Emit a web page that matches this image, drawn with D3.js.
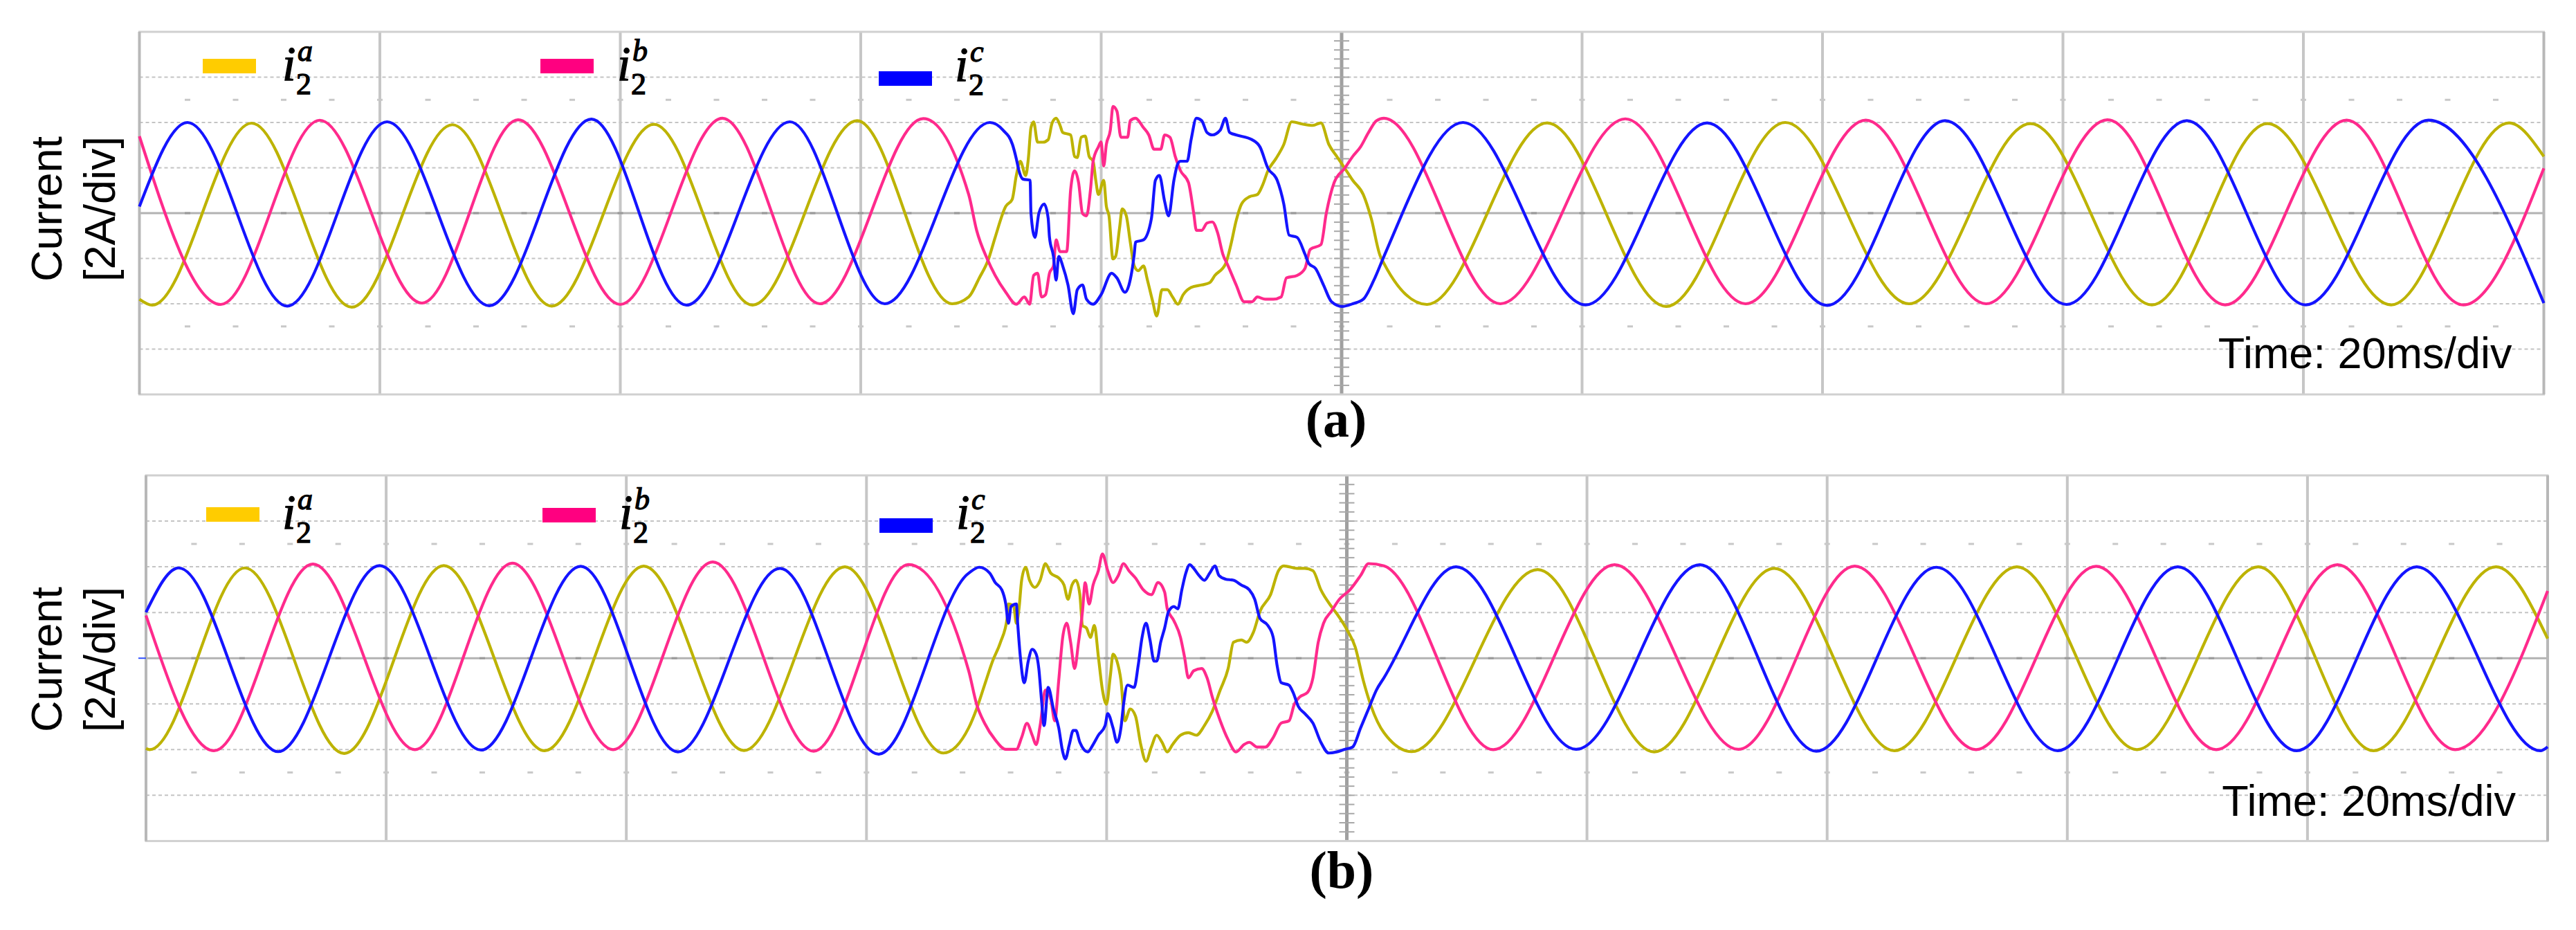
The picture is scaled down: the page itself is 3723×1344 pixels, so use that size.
<!DOCTYPE html>
<html>
<head>
<meta charset="utf-8">
<script src="https://cdn.jsdelivr.net/npm/d3@7"></script>
<style>
  body { margin: 0; background: #fff; }
  svg { display: block; }
</style>
</head>
<body>
<div id="chart"></div>
<script>
// [time ms, current A] (2A/div, 20ms/div)
const a_i2a = [[0,-3.8],[1.07,-4.06],[9.33,3.97],[17.66,-4.15],[26.03,3.9],[34.3,-4.1],[42.8,3.92],[51.0,-4.06],[59.7,4.08],[67.6,-4.0],
  [68.98,-3.7],[69.86,-2.86],[70.6,-2.07],[71.18,-1.07],[72.06,0.3],[72.6,0.61],[72.94,1.66],[73.27,2.29],[73.72,1.66],[73.94,2.4],[74.16,3.77],[74.38,4.03],[74.71,3.13],[75.15,3.13],[75.59,3.24],[75.92,3.98],[76.25,4.19],[76.58,3.87],[76.8,3.56],[77.46,3.45],[77.79,2.5],[78.01,2.45],[78.34,3.35],[78.67,3.4],[79.0,2.5],[79.33,2.29],[79.55,1.45],[79.77,0.82],[80.21,1.45],[80.43,0.3],[80.65,-0.12],[80.98,-2.02],[81.2,-1.91],[81.53,-0.65],[81.75,0.19],[82.09,-0.12],[82.42,-1.28],[82.75,-2.33],[83.08,-2.54],[83.52,-2.33],[83.85,-2.96],[84.29,-3.91],[84.62,-4.54],[85.06,-3.38],[85.5,-3.38],[85.94,-3.7],[86.38,-4.02],[86.82,-3.6],[87.48,-3.28],[88.36,-3.17],[89.02,-3.07],[89.46,-2.75],[90.35,-2.23],[90.79,-1.39],[91.23,-0.33],[91.67,0.4],[92.33,0.72],[92.99,0.82],[93.43,1.24],[93.87,1.87],[94.53,2.4],[95.19,3.03],[95.85,4.03],[96.73,3.93],[97.61,3.87],[98.28,3.98],[98.94,3.03],[99.6,2.5],[100.26,1.98],[100.92,1.45],[101.8,0.82],[102.46,-0.23],[103.23,-1.91],
  [107.1,-4.03],[117.1,3.98],[127.0,-4.12],[136.9,4.0],[147.2,-4.0],[157.3,3.95],[167.4,-4.05],[177.0,3.95],[187.3,-4.05],[197.1,3.98],[200,2.5]];
const a_i2b = [[0,3.39],[6.76,-4.03],[15.0,4.1],[23.5,-3.97],[31.5,4.12],[40.0,-4.03],[48.5,4.19],[56.6,-4.0],[65.2,4.17],
  [68.98,0.82],[69.64,-0.76],[70.52,-2.02],[71.18,-2.75],[72.06,-3.49],[72.94,-4.02],[73.61,-3.7],[74.05,-4.02],[74.38,-2.75],[74.71,-2.65],[75.04,-3.7],[75.37,-3.6],[75.7,-2.65],[76.03,-2.33],[76.25,-1.18],[76.58,-1.7],[77.13,-1.7],[77.46,1.03],[77.79,1.87],[78.12,1.35],[78.45,-0.02],[78.78,-0.12],[79.11,1.03],[79.33,2.29],[79.77,2.93],[79.99,3.14],[80.21,2.08],[80.43,3.03],[80.76,3.66],[80.98,4.71],[81.31,4.5],[81.64,3.35],[82.2,3.35],[82.42,4.08],[82.86,4.19],[83.52,3.77],[83.96,3.45],[84.4,2.82],[84.95,2.82],[85.28,3.45],[85.72,3.35],[86.16,2.5],[86.6,1.87],[87.26,1.35],[87.7,-0.02],[87.92,-0.76],[88.36,-0.76],[88.8,-0.44],[89.24,-0.39],[89.68,-0.86],[90.12,-1.81],[90.56,-2.33],[91.23,-3.17],[91.89,-3.91],[92.55,-3.91],[92.99,-3.7],[93.65,-3.8],[94.31,-3.8],[94.97,-3.7],[95.41,-2.86],[96.29,-2.75],[96.95,-2.44],[97.39,-1.6],[98.28,-1.39],[98.72,-0.02],[99.38,1.35],[100.26,1.98],[100.92,2.5],[101.58,2.93],[102.24,3.56],[102.9,4.08],[103.52,4.19],
  [113.2,-4.0],[123.6,4.16],[133.6,-4.0],[143.6,4.1],[153.6,-4.0],[163.7,4.12],[173.5,-4.05],[183.6,4.1],[193.3,-4.05],[200,1.98]];
const a_i2c = [[0,0.29],[4.0,4.0],[12.3,-4.1],[20.6,4.03],[29.1,-4.09],[37.6,4.15],[45.5,-4.06],[54.1,4.03],[62.0,-4.0],[70.74,4.0],
  [71.84,3.66],[72.62,3.03],[72.94,2.4],[73.16,1.87],[73.5,1.5],[74.09,1.45],[74.16,0.0],[74.49,-1.07],[74.82,0.0],[75.26,0.4],[75.59,-0.23],[75.7,-1.07],[76.03,-1.91],[76.25,-2.96],[76.47,-1.91],[76.8,-2.33],[77.24,-3.17],[77.68,-4.44],[78.01,-3.38],[78.45,-3.17],[78.78,-3.8],[79.33,-4.02],[79.99,-3.6],[80.87,-2.65],[81.31,-2.86],[81.97,-3.49],[82.31,-3.17],[82.75,-1.81],[82.86,-1.28],[83.52,-1.18],[84.18,-0.23],[84.51,1.45],[84.84,1.66],[85.28,0.51],[85.61,-0.12],[86.05,1.45],[86.38,2.19],[86.6,2.29],[87.15,2.29],[87.48,3.24],[87.92,4.19],[88.36,4.08],[88.8,3.56],[89.24,3.45],[89.9,3.66],[90.34,4.19],[90.68,3.56],[91.23,3.45],[92.55,3.24],[93.21,2.92],[93.87,1.98],[94.64,1.45],[95.19,0.4],[95.63,-0.97],[96.29,-1.07],[96.95,-1.81],[97.28,-2.23],[97.83,-2.44],[98.49,-3.17],[99.16,-3.91],[100.04,-4.12],[100.92,-4.0],[101.8,-3.8],[102.68,-2.96],[103.52,-1.91],
  [110.1,4.0],[120.3,-4.05],[130.4,3.98],[140.4,-4.07],[150.2,4.08],[160.3,-4.03],[170.3,4.08],[180.2,-4.05],[190.4,4.1],[200,-3.97]];

const b_i2a = [[0,-3.95],[0.3,-4.0],[8.24,3.95],[16.5,-4.17],[24.8,4.05],[33.2,-4.05],[41.45,4.03],[49.8,-4.04],[58.2,4.0],[66.4,-4.15],
  [68.51,-3.05],[69.17,-2.22],[69.83,-1.18],[70.5,-0.13],[71.16,0.7],[71.71,1.74],[71.82,2.37],[72.26,2.26],[72.48,1.53],[72.7,2.16],[72.92,3.41],[73.25,3.98],[73.58,3.41],[74.02,3.1],[74.46,3.41],[74.9,4.14],[75.35,3.72],[76.01,3.51],[76.45,3.2],[76.78,2.58],[77.11,3.2],[77.44,3.41],[77.77,2.78],[77.99,1.43],[78.32,1.32],[78.65,0.91],[78.98,1.43],[79.31,0.07],[79.65,-1.39],[79.98,-2.01],[80.31,-0.76],[80.53,0.18],[80.86,-0.13],[81.19,-0.97],[81.52,-2.74],[81.96,-2.22],[82.4,-2.53],[82.84,-3.78],[83.28,-4.51],[83.72,-3.89],[84.17,-3.37],[84.61,-3.68],[85.05,-4.1],[85.49,-3.78],[86.15,-3.37],[86.81,-3.26],[87.47,-3.37],[88.14,-2.95],[88.8,-2.32],[89.46,-1.39],[90.12,-0.45],[90.56,0.7],[91.22,0.8],[91.66,0.7],[92.21,1.12],[92.77,2.05],[93.65,2.78],[94.31,3.83],[94.75,4.04],[95.85,3.93],[96.51,3.93],[97.18,3.83],[97.84,2.99],[98.72,2.26],[99.16,1.95],[100.04,1.22],[100.7,0.49],[101.37,-0.97],[102.03,-2.11],[103.09,-3.26],
  [105.4,-4.09],[115.9,3.88],[125.6,-4.1],[135.6,3.93],[145.6,-4.05],[155.8,4.0],[165.8,-4.0],[175.9,4.0],[185.5,-4.05],[195.7,4.0],[200,0.86]];
const b_i2b = [[0,1.87],[5.66,-4.05],[13.9,4.12],[22.4,-4.0],[30.5,4.16],[38.9,-4.0],[47.2,4.21],[55.6,-4.07],[63.5,4.1],
  [68.51,-0.55],[69.17,-2.01],[69.83,-2.84],[70.72,-3.57],[71.6,-3.99],[72.48,-3.99],[72.92,-3.47],[73.36,-2.85],[73.8,-3.37],[74.13,-3.78],[74.46,-2.95],[74.9,-1.39],[75.35,-1.8],[75.68,-2.74],[76.01,-0.97],[76.34,0.91],[76.67,1.53],[77.0,0.7],[77.33,-0.45],[77.66,0.7],[77.99,2.06],[78.21,3.3],[78.54,2.37],[78.87,3.2],[79.31,3.83],[79.65,4.56],[80.09,3.83],[80.53,3.31],[80.97,3.62],[81.41,4.14],[81.85,3.83],[82.4,3.51],[83.06,2.99],[83.73,2.78],[84.28,3.31],[84.83,2.89],[85.05,2.16],[85.6,1.64],[86.15,0.91],[86.48,0.07],[86.81,-0.86],[87.25,-0.55],[87.91,-0.45],[88.36,-0.86],[88.8,-1.7],[89.46,-2.74],[90.12,-3.57],[90.78,-4.1],[91.44,-3.78],[91.88,-3.68],[92.55,-3.89],[93.21,-3.89],[93.87,-3.47],[94.53,-2.84],[95.19,-2.74],[95.63,-2.01],[96.07,-1.7],[96.74,-1.49],[97.18,-0.86],[97.62,0.7],[98.06,1.53],[98.72,2.06],[99.38,2.58],[100.26,2.99],[101.15,3.62],[101.81,4.14],[103.09,4.04],
  [112.2,-4.0],[122.3,4.09],[132.6,-3.99],[142.3,4.03],[152.4,-4.0],[162.4,4.02],[172.4,-4.0],[182.5,4.09],[192.3,-4.0],[200,2.94]];
const b_i2c = [[0,2.01],[2.73,3.95],[11.0,-4.09],[19.45,4.05],[27.9,-4.02],[36.2,4.02],[44.3,-4.1],[52.8,3.93],[61.0,-4.2],
  [68.51,3.72],[69.39,3.98],[70.27,3.72],[70.72,3.31],[71.27,2.99],[71.6,2.37],[71.82,1.53],[72.04,2.26],[72.48,2.37],[72.59,1.53],[72.81,0.07],[73.14,-1.07],[73.47,-0.13],[73.8,0.39],[74.13,0.18],[74.35,-0.45],[74.57,-1.8],[74.79,-2.95],[75.13,-1.28],[75.57,-2.22],[76.01,-3.05],[76.34,-4.1],[76.56,-4.41],[76.89,-3.78],[77.22,-3.16],[77.44,-3.16],[77.77,-3.68],[78.1,-3.99],[78.43,-4.1],[78.87,-3.78],[79.31,-3.37],[79.87,-2.95],[80.09,-2.43],[80.53,-3.05],[80.86,-3.68],[81.19,-3.05],[81.41,-2.01],[81.74,-1.18],[82.29,-1.28],[82.62,-0.34],[82.95,0.91],[83.28,1.53],[83.61,0.8],[83.95,-0.13],[84.17,-0.13],[84.5,0.7],[84.83,1.32],[85.16,2.05],[85.6,2.26],[85.93,2.16],[86.26,2.99],[86.59,3.72],[86.92,4.09],[87.25,3.93],[87.69,3.62],[88.14,3.41],[88.58,3.72],[89.02,4.04],[89.35,3.62],[89.9,3.46],[90.56,3.41],[91.22,3.2],[91.88,2.99],[92.33,2.58],[92.77,1.74],[93.43,1.43],[93.87,0.91],[94.2,-0.34],[94.53,-1.07],[95.19,-1.18],[95.52,-1.49],[95.96,-2.11],[96.51,-2.43],[97.18,-2.84],[97.84,-3.68],[98.5,-4.15],[99.16,-4.1],[99.82,-3.99],[100.48,-3.89],[101.15,-3.05],[101.81,-2.22],[102.47,-1.39],[103.09,-0.86],
  [109.1,4.0],[119.1,-3.99],[129.4,4.09],[139.1,-4.07],[149.1,3.98],[159.2,-4.05],[169.2,4.0],[179.1,-4.05],[189.1,4.0],[199.4,-4.05],[200,-3.88]];

const phases = ["a", "b", "c"];
const captions = ["(a)", "(b)"];
const yLabel = ["Current", "[2A/div]"];
const timeLabel = "Time: 20ms/div";
const timeDivs = [20, 40, 60, 80, 120, 140, 160, 180];
const currentDivs = [-6, -4, -2, 2, 4, 6];
const dotRows = [-5, 0, 5];

const traceColor = {a: "#bdb300", b: "#ff2a8c", c: "#1414ff"};
const keyColor = {a: "#ffcc00", b: "#ff0080", c: "#0000ff"};

const panels = [
  {data: [a_i2a, a_i2b, a_i2c], caption: captions[0],
   x0: 201.5, x1: 3676.5, y0: 46, y1: 570,
   keys: [[293, 85], [781, 85], [1270, 103]], keyText: [[408, 116], [892, 116], [1380, 117]],
   cap: [1931, 631], timeY: 532, labelY: 302, marker: false},
  {data: [b_i2a, b_i2b, b_i2c], caption: captions[1],
   x0: 211, x1: 3682, y0: 687, y1: 1215.4,
   keys: [[298, 733], [784, 734], [1271, 749]], keyText: [[408, 764], [895, 764], [1382, 764]],
   cap: [1939, 1283], timeY: 1179, labelY: 953, marker: true}
];

const svg = d3.select("#chart").append("svg")
  .attr("width", 3723).attr("height", 1344)
  .style("background", "#fff");

panels.forEach(drawPanel);

function drawPanel(p) {
  const x = d3.scaleLinear().domain([0, 200]).range([p.x0, p.x1]);
  const y = d3.scaleLinear().domain([-8, 8]).range([p.y1, p.y0]);
  const g = svg.append("g");

  // dotted division lines
  g.selectAll("line.hdiv").data(currentDivs).join("line")
    .attr("class", "hdiv")
    .attr("x1", p.x0).attr("x2", p.x1)
    .attr("y1", d => y(d)).attr("y2", d => y(d))
    .style("stroke", "#c4c4c4").style("stroke-width", 2).style("stroke-dasharray", "5,4");

  g.append("line")
    .attr("x1", p.x0).attr("x2", p.x1).attr("y1", y(0)).attr("y2", y(0))
    .style("stroke", "#b2b2b2").style("stroke-width", 3);

  g.selectAll("line.vdiv").data(timeDivs).join("line")
    .attr("class", "vdiv")
    .attr("x1", d => x(d)).attr("x2", d => x(d))
    .attr("y1", p.y0).attr("y2", p.y1)
    .style("stroke", "#c6c6c6").style("stroke-width", 4);

  // small scope marks every 1/5 div
  const minor = d3.range(4, 200, 4);
  dotRows.forEach(r => {
    g.selectAll(null).data(minor).join("rect")
      .attr("x", d => x(d) - 4).attr("y", y(r) - 1.5)
      .attr("width", 8).attr("height", 3)
      .style("fill", r === 0 ? "#9a9a9a" : "#c8c8c8");
  });

  g.append("line")
    .attr("x1", x(100)).attr("x2", x(100)).attr("y1", p.y0).attr("y2", p.y1)
    .style("stroke", "#a0a0a0").style("stroke-width", 5);
  g.selectAll("line.ctick").data(d3.range(-7.6, 8, 0.4)).join("line")
    .attr("class", "ctick")
    .attr("x1", x(100) - 11).attr("x2", x(100) + 11)
    .attr("y1", d => y(d)).attr("y2", d => y(d))
    .style("stroke", "#a8a8a8").style("stroke-width", 2);

  // frame
  g.append("rect")
    .attr("x", p.x0).attr("y", p.y0).attr("width", p.x1 - p.x0).attr("height", p.y1 - p.y0)
    .style("fill", "none").style("stroke", "#d0d0d0").style("stroke-width", 3);
  [p.x0, p.x1].forEach(v => {
    g.append("line").attr("x1", v).attr("x2", v).attr("y1", p.y0).attr("y2", p.y1)
      .style("stroke", "#b8b8b8").style("stroke-width", 4);
  });
  if (p.marker) {
    g.append("line").attr("x1", p.x0 - 11).attr("x2", p.x0).attr("y1", y(0)).attr("y2", y(0))
      .style("stroke", "#3050ff").style("stroke-width", 2);
  }

  const line = d3.line()
    .curve(d3.curveMonotoneX)
    .x(d => x(d[0]))
    .y(d => y(d[1]));

  phases.forEach((ph, i) => {
    g.append("path")
      .attr("d", line(p.data[i]))
      .style("fill", "none")
      .style("stroke", traceColor[ph])
      .style("stroke-width", 4.2)
      .style("stroke-linejoin", "round");
  });

  // legend: i with subscript 2 and phase superscript
  phases.forEach((ph, i) => {
    const [kx, ky] = p.keys[i], [tx, ty] = p.keyText[i];
    g.append("rect").attr("x", kx).attr("y", ky).attr("width", 77).attr("height", 21)
      .style("fill", keyColor[ph]);
    const t = g.append("text").attr("x", tx).attr("y", ty)
      .style("font-family", "'Liberation Serif', serif")
      .style("stroke", "#000").style("stroke-width", 1.3);
    t.append("tspan").style("font-style", "italic").style("font-size", "70px").text("i");
    t.append("tspan").attr("x", tx + 20).attr("dy", 20).style("font-size", "44px").text("2");
    t.append("tspan").attr("x", tx + 22).attr("dy", -48)
      .style("font-style", "italic").style("font-size", "44px").text(ph);
  });

  g.append("text")
    .attr("x", p.x1 - 46).attr("y", p.timeY)
    .attr("text-anchor", "end")
    .style("font-family", "'Liberation Sans', Arial, sans-serif")
    .style("font-size", "63px")
    .text(timeLabel);

  g.append("text")
    .attr("transform", "translate(89," + p.labelY + ") rotate(-90)")
    .attr("text-anchor", "middle")
    .style("font-family", "'Liberation Sans', Arial, sans-serif")
    .style("font-size", "63px")
    .text(yLabel[0]);
  g.append("text")
    .attr("transform", "translate(166," + p.labelY + ") rotate(-90)")
    .attr("text-anchor", "middle")
    .style("font-family", "'Liberation Sans', Arial, sans-serif")
    .style("font-size", "63px")
    .text(yLabel[1]);

  g.append("text")
    .attr("x", p.cap[0]).attr("y", p.cap[1])
    .attr("text-anchor", "middle")
    .style("font-family", "'Liberation Serif', serif")
    .style("font-weight", "bold")
    .style("font-size", "76px")
    .text(p.caption);
}
</script>
</body>
</html>
